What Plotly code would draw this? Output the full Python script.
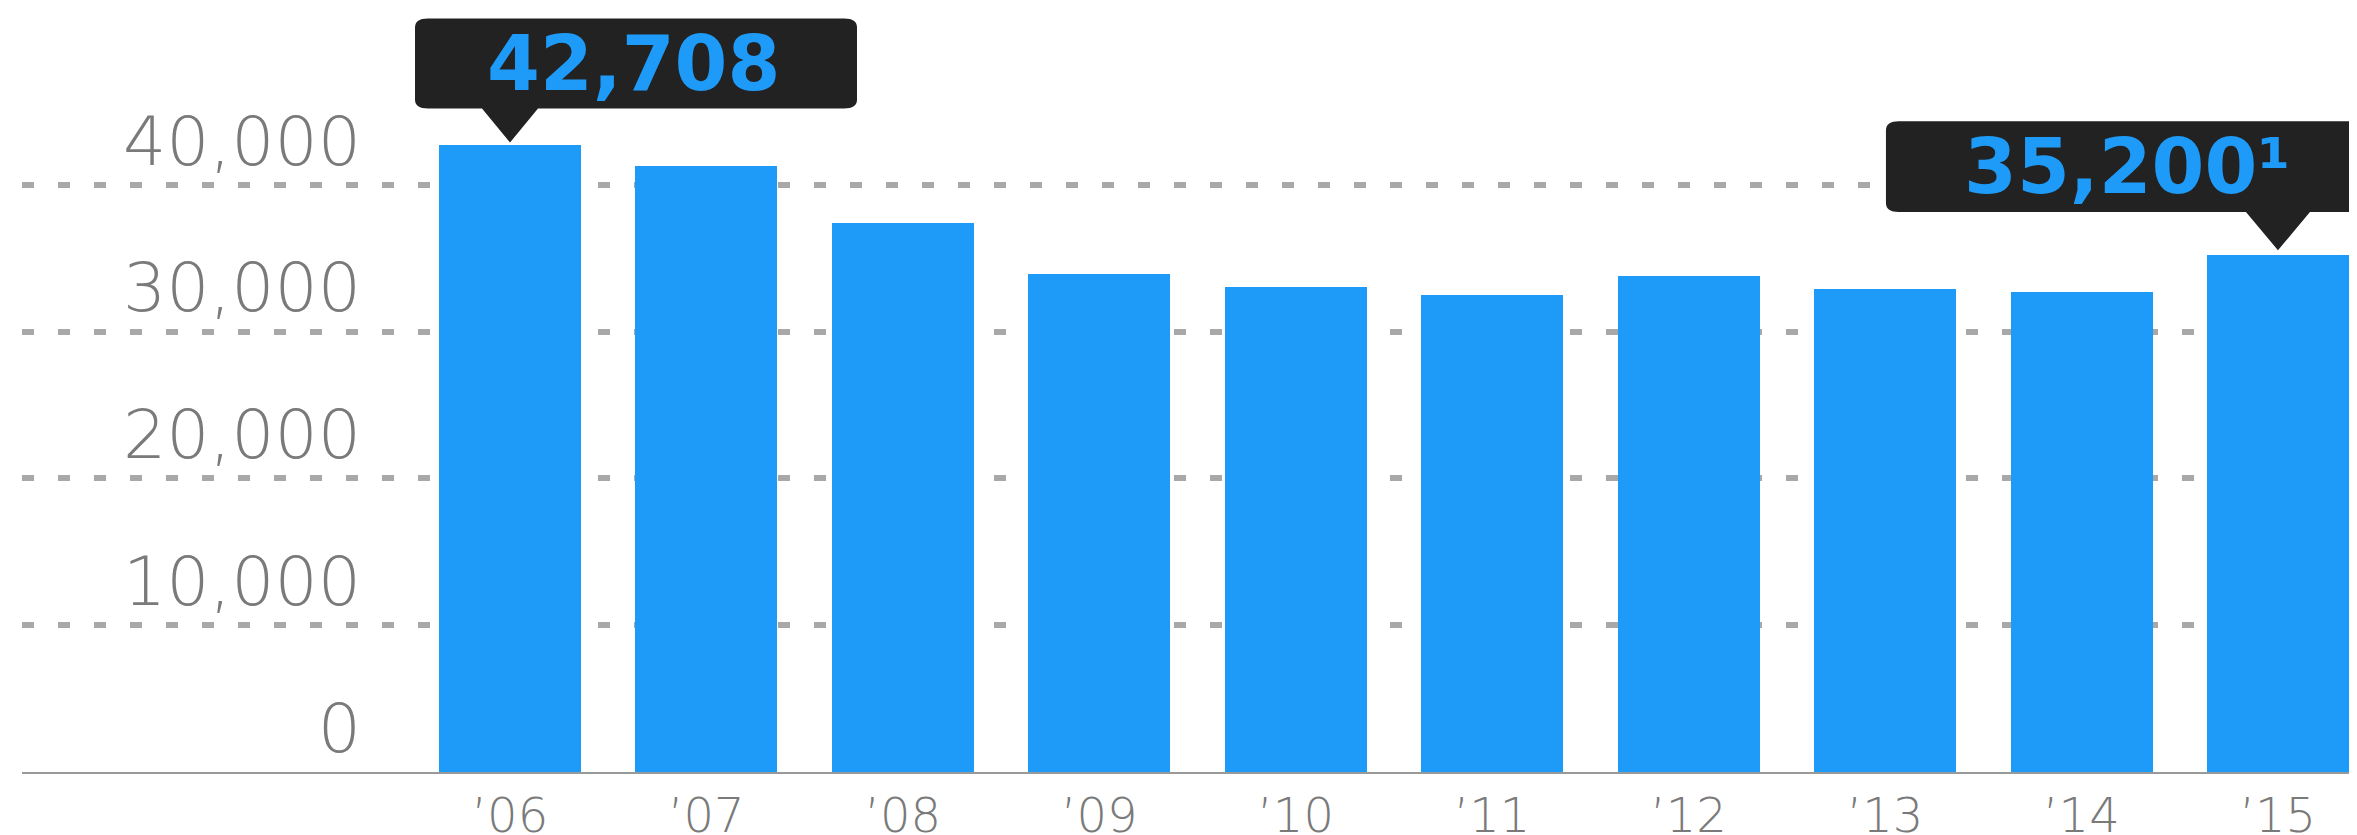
import plotly.graph_objects as go

# ---- data ----
years = ["’06", "’07", "’08", "’09", "’10", "’11", "’12", "’13", "’14", "’15"]
counts = [42708, 41270, 37430, 33930, 33060, 32520, 33820, 32920, 32680, 35200]
y_ticks = [0, 10000, 20000, 30000, 40000]
y_tick_labels = ["0", "10,000", "20,000", "30,000", "40,000"]
callout_idx = [0, 9]
callout_suffix = ["", "¹"]

BLUE = "#1E9BF8"
DARK = "#222222"
GRAY_TXT = "#7a7a7a"
GRID = "#a8a8a8"

x_pos = list(range(len(years)))

fig = go.Figure()
fig.add_trace(go.Bar(x=x_pos, y=counts, width=0.723, marker=dict(color=BLUE, line=dict(width=0)),
                     hoverinfo="skip"))

# callout geometry (pixel offsets relative to bar top)
geo = {
    0: dict(L=-95, R=347, B=36.6, T=126.6, tip=2.6, hw=28, xs=123, ys=82),
    9: dict(L=-392, R=90, B=43.4, T=134.0, tip=5.0, hw=32, xs=-150, ys=89),
}


def callout_path(L, R, B, T, tip, hw, rx=13, ry=9, **_):
    return (f"M {L+rx},{T} L {R-rx},{T} Q {R},{T} {R},{T-ry} L {R},{B+ry} Q {R},{B} {R-rx},{B} "
            f"L {hw},{B} L 0,{tip} L {-hw},{B} L {L+rx},{B} Q {L},{B} {L},{B+ry} L {L},{T-ry} "
            f"Q {L},{T} {L+rx},{T} Z")


for i, suf in zip(callout_idx, callout_suffix):
    g = geo[i]
    fig.add_shape(type="path", xref="x", yref="y", xsizemode="pixel", ysizemode="pixel",
                  xanchor=x_pos[i], yanchor=counts[i], path=callout_path(**g),
                  fillcolor=DARK, line=dict(width=0), layer="above")
    fig.add_annotation(x=x_pos[i], y=counts[i], xref="x", yref="y",
                       text=f"{counts[i]:,}{suf}", showarrow=False,
                       xanchor="center", yanchor="middle", xshift=g["xs"], yshift=g["ys"],
                       font=dict(family="DejaVu Sans", size=76, color=BLUE, weight="bold"))

# the page body has an 8px default left margin, so the figure is narrowed to fit the window
W, H = 2349, 835
ML = 14
fig.update_layout(
    width=W, height=H,
    margin=dict(l=ML, r=0, t=0, b=61, pad=0),
    paper_bgcolor="white", plot_bgcolor="white",
    showlegend=False,
    bargap=0,
    xaxis=dict(
        range=[-2.4842, 9.4024],
        tickvals=x_pos, ticktext=years,
        showgrid=False, zeroline=False,
        showline=True, linecolor="#999999", linewidth=2,
        ticks="", ticklabelstandoff=0, ticklabeloverflow="allow",
        tickfont=dict(family="DejaVu Sans", size=48, color=GRAY_TXT, weight=200),
    ),
    yaxis=dict(
        range=[0, 52050],
        anchor="free", position=(353 - ML) / (W - ML),
        tickvals=y_ticks, ticktext=y_tick_labels,
        showgrid=True, gridcolor=GRID, gridwidth=6, griddash="12px,24px",
        zeroline=False, showline=False, ticks="",
        ticklabelshift=-44, ticklabelstandoff=0, ticklabeloverflow="allow",
        tickfont=dict(family="DejaVu Sans", size=68, color=GRAY_TXT, weight=200),
    ),
)

fig.write_html("out.html")
